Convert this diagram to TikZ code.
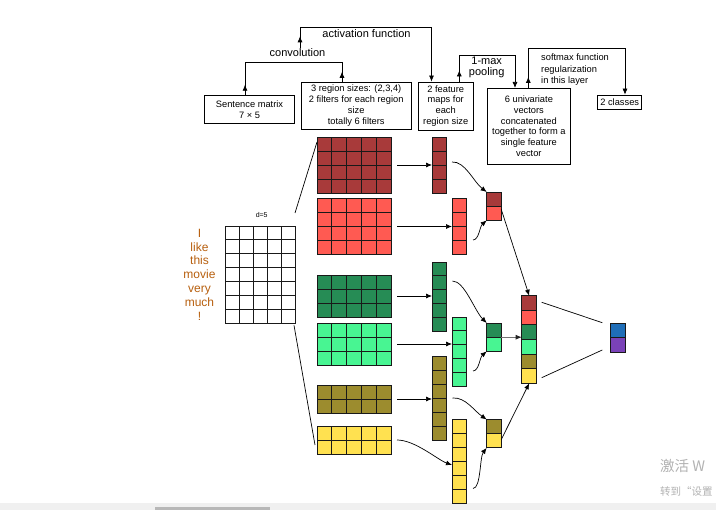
\documentclass[tikz,border=0pt]{standalone}
\usepackage{fontspec}
\setmainfont{Liberation Sans}
\newfontfamily\cjkfont{Noto Sans CJK SC}
\usetikzlibrary{arrows.meta,calc,decorations.markings}

\definecolor{cA}{HTML}{A83A3A}
\definecolor{cB}{HTML}{FF5A52}
\definecolor{cC}{HTML}{268C55}
\definecolor{cD}{HTML}{48F592}
\definecolor{cE}{HTML}{9C8C2E}
\definecolor{cF}{HTML}{FFE150}
\definecolor{cG}{HTML}{1F6EB8}
\definecolor{cH}{HTML}{7A42B8}
\definecolor{wordc}{HTML}{B8600F}

\tikzset{
  cellline/.style={draw=black!90,line width=0.8pt},
  blocknode/.style={rectangle,draw=none,inner sep=0pt,outer sep=0pt},
  conn/.style={line width=0.7pt,draw=black},
  arr/.style={conn,-{Latex[length=6pt,width=5pt]}},
  box/.style={draw,line width=0.8pt,rectangle,inner sep=1pt,align=center,
    font=\fontsize{9.3}{10.9}\selectfont},
  lbl/.style={inner sep=1pt,font=\fontsize{11}{11.6}\selectfont},
  word/.style={inner sep=0pt,anchor=base,text=wordc,font=\fontsize{12}{13}\selectfont},
  midarrow/.style={postaction={decorate},decoration={markings,
    mark=at position #1 with {\arrow{Latex[length=6pt,width=5pt]}}}},
}

% name, x, y, cols, rows, cell width, cell height, colour
\newcommand\cellblock[8]{%
  \foreach \ci in {1,...,#4}{\foreach \ri in {1,...,#5}{%
    \draw[cellline,fill=#8] ({#2+(\ci-1)*#6},{#3+(\ri-1)*#7}) rectangle ++(#6,#7);}}%
  \node[blocknode,minimum width={#4*#6},minimum height={#5*#7},anchor=north west] (#1) at (#2,#3) {};%
}
% name, x, y, cell width, cell height, count, colour list
\newcommand\colorcol[7]{%
  \foreach \cc [count=\ii] in {#7}{%
    \draw[cellline,fill=\cc] (#2,{#3+(\ii-1)*#5}) rectangle ++(#4,#5);}%
  \node[blocknode,minimum width={#4},minimum height={#6*#5},anchor=north west] (#1) at (#2,#3) {};%
}

\begin{document}
\begin{tikzpicture}[x=1pt,y=-1pt]
\useasboundingbox[fill=white] (0,0) rectangle (716,510);
\fill[black!6] (0,503) rectangle (716,510);
\fill[black!28] (155,507.5) rectangle (270,510);

% ---------- top boxes ----------
\node[box,minimum width=90,minimum height=27.3] (sent) at (249.5,109.4) {Sentence matrix\\7 × 5};
\node[box,minimum width=110.5,minimum height=47.5] (reg) at (356.2,105.8) {3 region sizes: (2,3,4)\\2 filters for each region\\size\\totally 6 filters};
\node[box,minimum width=55.3,minimum height=48] (fmap) at (445.7,106) {2 feature\\maps for\\each\\region size};
\node[box,minimum width=82.3,minimum height=75.7] (univ) at (528.9,126.2) {6 univariate\\vectors\\concatenated\\together to form a\\single feature\\vector};
\node[box,minimum width=44,minimum height=14.3] (cls) at (619.7,102.2) {2 classes};

\node[lbl] (convl) at (297.5,53) {convolution};
\node[lbl] (actl) at (366.5,34) {activation function};
\node[lbl,align=center] (pooll) at (486.7,67.5) {1-max\\pooling};
\node[inner sep=0pt,anchor=west,align=left,font=\fontsize{9.3}{11.3}\selectfont] (smaxl) at (541,69.7) {softmax function\\regularization\\in this layer};

% ---------- top connectors ----------
\coordinate (cvL) at (245,62); \coordinate (cvR) at (342,62);
\draw[conn,midarrow=0.32] (sent.north -| cvL) -- (cvL);
\draw[conn] (cvL) -- (cvR);
\draw[conn,midarrow=0.5] (reg.north -| cvR) -- (cvR);

\coordinate (acL) at (300,27); \coordinate (acR) at (431.5,27);
\draw[conn,midarrow=0.55] (convl.north -| acL) -- (acL);
\draw[arr] (acL) -- (acR) -- (acR |- fmap.north);

\coordinate (pmL) at (459.3,55); \coordinate (pmR) at (515,55);
\draw[conn,midarrow=0.42] (fmap.north -| pmL) -- (pmL);
\draw[arr] (pmL) -- (pmR) -- (pmR |- univ.north);

\coordinate (smL) at (528.3,48.3); \coordinate (smR) at (625,48.3);
\draw[conn,midarrow=0.28] (univ.north -| smL) -- (smL);
\draw[arr] (smL) -- (smR) -- (smR |- cls.north);

% ---------- sentence matrix ----------
\cellblock{S}{225}{226}{5}{7}{14}{13.9}{white}
\foreach \w [count=\i] in {I,like,this,movie,very,much,!}
  \node[word] (w\i) at (199.5,{226+13.9*(\i-0.5)+4.2}) {\w};
\node[inner sep=0pt,font=\fontsize{7}{8}\selectfont] (dlbl) at (261.7,215) {d=5};

% ---------- filters ----------
\cellblock{F1}{317}{137}{5}{4}{14.8}{14}{cA}
\cellblock{F2}{317}{198.5}{5}{4}{14.8}{14}{cB}
\cellblock{F3}{317}{275}{5}{3}{14.8}{14}{cC}
\cellblock{F4}{317}{323}{5}{3}{14.8}{14}{cD}
\cellblock{F5}{317}{385}{5}{2}{14.8}{14}{cE}
\cellblock{F6}{317}{426}{5}{2}{14.8}{14}{cF}

\draw[conn] ($(S.north east)+(0,-13)$) -- ($(F1.north west)+(0,5)$);
\draw[conn] ($(S.south east)+(-1,2)$) -- ($(F6.south west)+(-2,-9)$);

% ---------- feature maps ----------
\cellblock{M1}{432}{137}{1}{4}{14.5}{14}{cA}
\cellblock{M2}{452}{198.5}{1}{4}{14.5}{14}{cB}
\cellblock{M3}{432}{262}{1}{5}{14.5}{13.8}{cC}
\cellblock{M4}{452}{317}{1}{5}{14.5}{13.8}{cD}
\cellblock{M5}{432}{356}{1}{6}{14.5}{14}{cE}
\cellblock{M6}{452}{419.5}{1}{6}{14.5}{14}{cF}

\draw[arr,shorten <=6pt] (F1.east) -- (F1.east -| M1.west);
\draw[arr,shorten <=6pt] (F2.east) -- (F2.east -| M2.west);
\draw[arr,shorten <=6pt] (F3.east) -- (F3.east -| M3.west);
\draw[arr,shorten <=6pt] (F4.east) -- (F4.east -| M4.west);
\draw[arr,shorten <=6pt] (F5.east) -- (F5.east -| M5.west);
\draw[arr] ($(F6.east)+(6,0)$) .. controls +(18,0) and +(-14,-5) .. ($(M6.west)+(0,3.5)$);

% ---------- pooled ----------
\colorcol{P1}{486.7}{192}{14.5}{14.2}{2}{cA,cB}
\colorcol{P2}{486.7}{323}{14.5}{14.2}{2}{cC,cD}
\colorcol{P3}{486.7}{419.5}{14.5}{14.2}{2}{cE,cF}

\draw[arr] ($(M1.east)+(5.5,-3)$) .. controls +(13,-1) and +(-13,-10) .. (P1.north west);
\draw[arr] ($(M2.east)+(6.5,13.5)$) .. controls +(6,0) and +(-7,6) .. (P1.south west);
\draw[arr] ($(M3.east)+(6,-15.5)$) .. controls +(12,0) and +(-12,-12) .. (P2.north west);
\draw[arr] ($(M4.east)+(6.5,19.5)$) .. controls +(6,0) and +(-7,6) .. (P2.south west);
\draw[arr] ($(M5.east)+(6,0)$) .. controls +(13,-1) and +(-13,-9) .. (P3.north west);
\draw[arr] ($(M6.east)+(6.5,27)$) .. controls +(8,0) and +(-7,9) .. (P3.south west);

% ---------- concatenated vector and output ----------
\colorcol{cat}{521.7}{295.7}{15}{14.6}{6}{cA,cB,cC,cD,cE,cF}
\colorcol{out}{610.7}{323.3}{15}{14.5}{2}{cG,cH}

\draw[arr] ($(P1.east)+(0,3)$) -- (cat.north);
\draw[conn,draw=black!55,-{Latex[length=6pt,width=5pt,color=black!85]}] (P2.east) -- (P2.east -| cat.west);
\draw[arr] ($(P3.east)+(0,6)$) -- (cat.south);

\draw[conn] ($(cat.north east)+(5,6.6)$) -- ($(out.north west)+(-8.4,-0.6)$);
\draw[conn] ($(cat.south east)+(5,-5.6)$) -- ($(out.south west)+(-8.4,-2.3)$);

% ---------- screen watermark ----------
\node[anchor=west,inner sep=0pt,text=black!30,font=\cjkfont\fontsize{14.5}{16}\selectfont] (wm1) at (660,466) {激活 W};
\node[anchor=west,inner sep=0pt,text=black!30,font=\cjkfont\fontsize{10.5}{12}\selectfont] (wm2) at (660,491) {转到“设置};
\end{tikzpicture}
\end{document}
